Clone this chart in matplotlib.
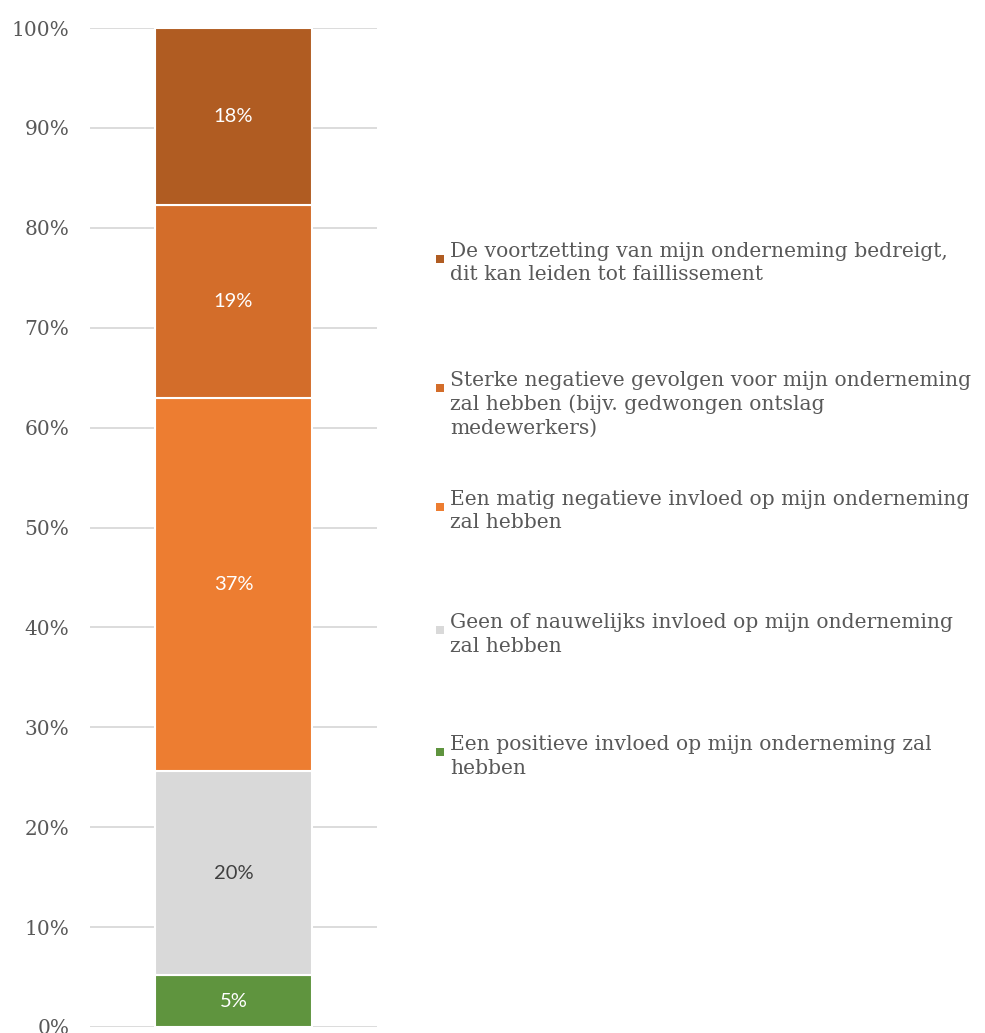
import matplotlib
matplotlib.use("Agg")
import matplotlib.pyplot as plt
from matplotlib.patches import Rectangle

categories = [
    "Een positieve invloed op mijn onderneming zal\nhebben",
    "Geen of nauwelijks invloed op mijn onderneming\nzal hebben",
    "Een matig negatieve invloed op mijn onderneming\nzal hebben",
    "Sterke negatieve gevolgen voor mijn onderneming\nzal hebben (bijv. gedwongen ontslag\nmedewerkers)",
    "De voortzetting van mijn onderneming bedreigt,\ndit kan leiden tot faillissement",
]
values = [5.2, 20.4, 37.4, 19.3, 17.7]
bar_labels = ["5%", "20%", "37%", "19%", "18%"]
colors = ["#5F943E", "#D9D9D9", "#ED7D31", "#D36D2A", "#B05C22"]
label_colors = ["white", "#404040", "white", "white", "white"]
yticks = list(range(0, 101, 10))
ytick_labels = [f"{t}%" for t in yticks]

W, H = 985, 1033
fig = plt.figure(figsize=(W / 100, H / 100), dpi=100)
ax = fig.add_axes([90 / W, 6 / H, 287 / W, 999 / H])

bottom = 0
for v, c, lab, lc in zip(values, colors, bar_labels, label_colors):
    ax.bar(0, v, bottom=bottom, width=0.547, color=c, edgecolor="white",
           linewidth=1.5, zorder=3)
    ax.text(0, bottom + v / 2, lab, ha="center", va="center",
            color=lc, fontsize=14.5, family="Lato", zorder=4)
    bottom += v

ax.set_xlim(-0.5, 0.5)
ax.set_ylim(0, 100)
ax.set_yticks(yticks)
ax.set_yticklabels(ytick_labels, family="DejaVu Serif", fontsize=14.5, color="#595959")
ax.set_xticks([])
ax.tick_params(axis="y", length=0, pad=15)
ax.yaxis.grid(True, color="#D9D9D9", linewidth=1.3, zorder=0)
ax.set_axisbelow(True)
for s in ax.spines.values():
    s.set_visible(False)

# legend (top-to-bottom order reversed from stacking)
legend_tops = [252, 381, 500, 623, 745]
for i, idx in enumerate(reversed(range(len(categories)))):
    ytop = legend_tops[i]
    fig.text(450 / W, 1 - (ytop - 10) / H, categories[idx], ha="left", va="top",
             family="DejaVu Serif", fontsize=14.6, color="#595959",
             linespacing=1.3)
    fig.patches.append(Rectangle((436 / W, 1 - (ytop + 11) / H), 8 / W, 8 / H,
                                 transform=fig.transFigure, facecolor=colors[idx],
                                 edgecolor="none"))

fig.savefig("out.png", dpi=100)
